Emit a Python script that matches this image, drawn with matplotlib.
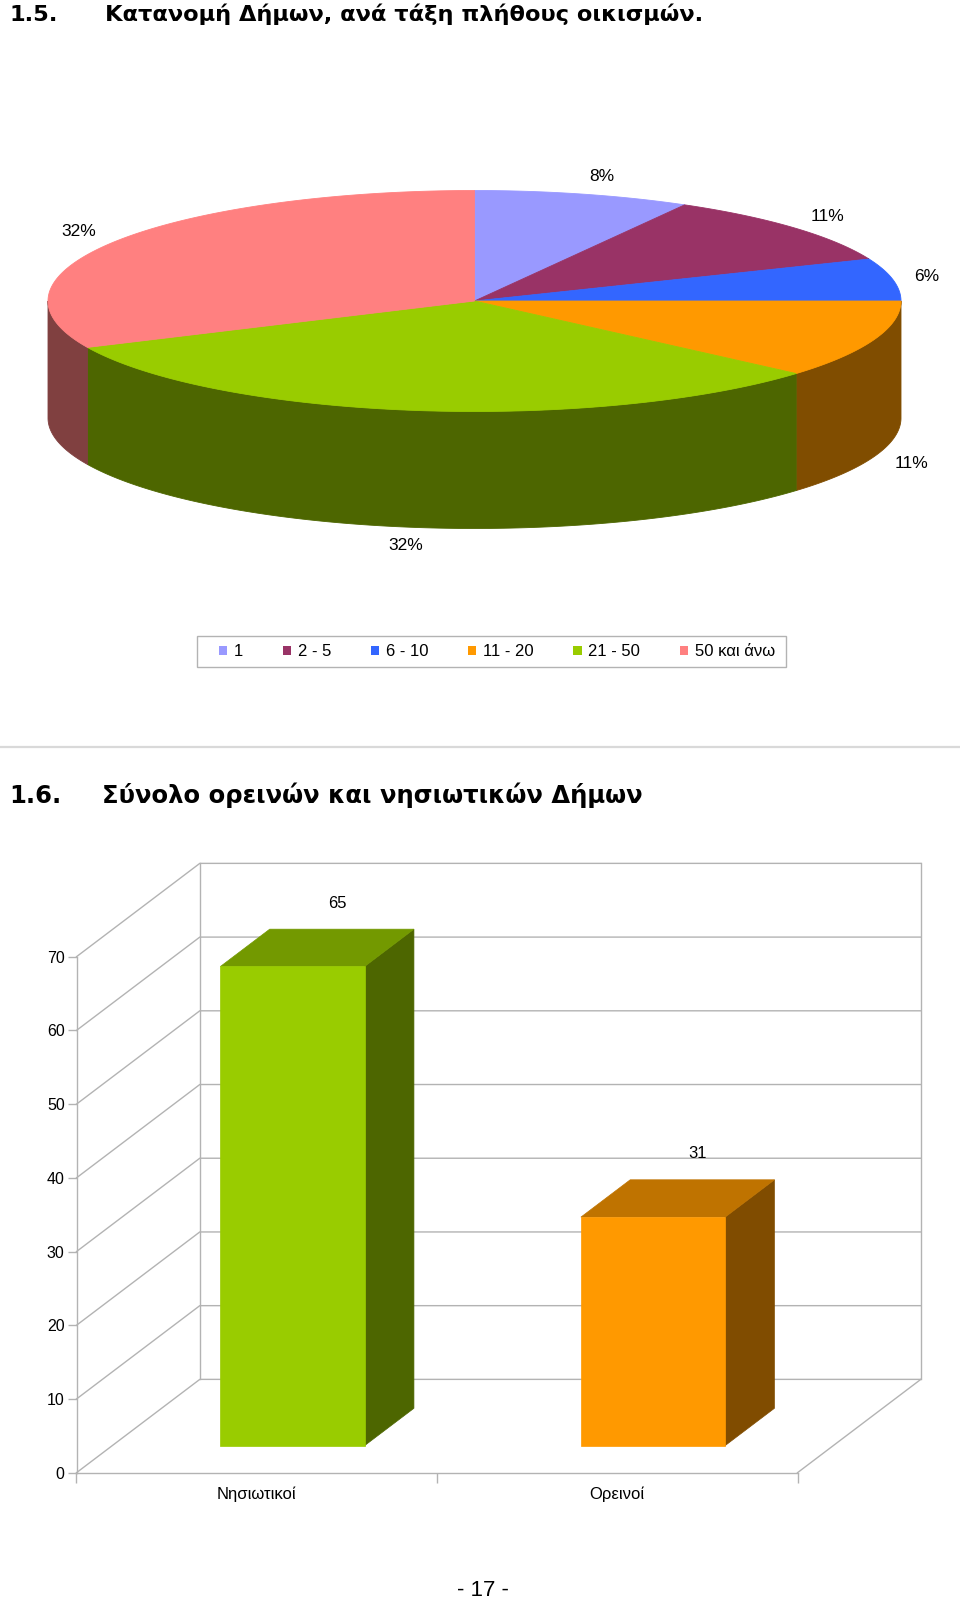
import numpy as np
import matplotlib
matplotlib.use('Agg')
import matplotlib.pyplot as plt
from matplotlib.patches import Patch, Rectangle

plt.rcParams['font.family'] = ['Liberation Sans', 'DejaVu Sans']

# 1.5 pie data (share of municipalities per settlement-count class, %)
groups = ['1', '2 - 5', '6 - 10', '11 - 20', '21 - 50', '50 και άνω']
shares = [8.2, 10.6, 6.2, 11.4, 31.7, 31.9]
top_colors = ['#9999FF', '#993366', '#3366FF', '#FF9900', '#99CC00', '#FF8080']
side_colors = ['#4D4D80', '#4D1A33', '#1A3380', '#804D00', '#4D6600', '#804040']

# 1.6 bar data
categories = ['Νησιωτικοί', 'Ορεινοί']
counts = [65, 31]
bar_front = ['#99CC00', '#FF9900']
bar_top = ['#739900', '#BF7300']
bar_side = ['#4D6600', '#804C00']
yticks = list(range(0, 80, 10))

title1 = ('1.5.', 'Κατανομή Δήμων, ανά τάξη πλήθους οικισμών.')
title2 = ('1.6.', 'Σύνολο ορεινών και νησιωτικών Δήμων')
page_no = '- 17 -'

W, H = 960, 1603
fig = plt.figure(figsize=(W / 100, H / 100), dpi=100)

# page canvas in pixel units
ax = fig.add_axes([0, 0, 1, 1])
ax.set_xlim(0, W)
ax.set_ylim(H, 0)
ax.axis('off')

tfont = dict(family=['DejaVu Sans'], fontweight='bold', va='baseline', color='black')
ax.text(9, 21, title1[0], fontsize=16.2, **tfont)
ax.text(105, 21, title1[1], fontsize=16.2, **tfont)
ax.text(9, 803, title2[0], fontsize=17.5, **tfont)
ax.text(102, 803, title2[1], fontsize=17.5, **tfont)
ax.plot([0, W], [747, 747], color='#D9D9D9', lw=1.6)
ax.text(483, 1591, page_no, fontsize=16, ha='center', va='center')

# ---- 3D pie ----
cx, cy, a, b, depth = 474.5, 301, 426.5, 110.5, 117
total = sum(shares)
edges = np.concatenate([[0], np.cumsum(shares)]) / total * 2 * np.pi

for i in range(len(shares)):
    lo = max(edges[i], np.pi / 2)
    hi = min(edges[i + 1], 3 * np.pi / 2)
    if lo < hi:
        ts = np.linspace(lo, hi, 120)
        xs = cx + a * np.sin(ts)
        ys = cy - b * np.cos(ts)
        px = np.concatenate([xs, xs[::-1]])
        py = np.concatenate([ys, ys[::-1] + depth])
        ax.fill(px, py, color=side_colors[i], lw=0.6, ec=side_colors[i], zorder=1)

for i in range(len(shares)):
    ts = np.linspace(edges[i], edges[i + 1], 200)
    xs = np.concatenate([[cx], cx + a * np.sin(ts)])
    ys = np.concatenate([[cy], cy - b * np.cos(ts)])
    ax.fill(xs, ys, color=top_colors[i], lw=0.6, ec=top_colors[i], zorder=2)

    mid = (edges[i] + edges[i + 1]) / 2
    s, c = np.sin(mid), np.cos(mid)
    lx = cx + (a + 22) * s
    ly = cy - (b + 18) * c + (depth if c < 0 else 0)
    ha = 'left' if s > 0.2 else ('right' if s < -0.2 else 'center')
    ax.text(lx - (6 if ha == 'center' else 0), ly, f'{shares[i] / total * 100:.0f}%',
            fontsize=12.5, ha=ha, va='center', zorder=3)

# legend with a box drawn to the reference size
ax.add_patch(Rectangle((197, 636), 589, 31, fill=False, ec='#B3B3B3', lw=1.0))
handles = [Patch(facecolor=col, edgecolor='none') for col in top_colors]
fig.legend(handles, groups, ncol=6, loc='center',
           bbox_to_anchor=(497 / W, 1 - 652 / H), fontsize=12,
           handlelength=0.5, handleheight=0.5, handletextpad=0.4,
           columnspacing=2.38, frameon=False)

# ---- 3D bars ----
grid = '#B3B3B3'
axb = fig.add_axes([76.5 / W, 1 - 1472.7 / H, 721 / W, 516 / H])
axb.set_facecolor('none')
axb.set_xlim(-0.5, 1.5)
axb.set_ylim(0, 70)
dx, dy = 0.342, 12.66   # oblique depth of the chart floor

for v in yticks:
    axb.plot([-0.5, -0.5 + dx, 1.5 + dx], [v, v + dy, v + dy],
             color=grid, lw=1, clip_on=False, zorder=0)
axb.plot([-0.5 + dx] * 2, [dy, 70 + dy], color=grid, lw=1, clip_on=False, zorder=0)
axb.plot([1.5 + dx] * 2, [dy, 70 + dy], color=grid, lw=1, clip_on=False, zorder=0)
axb.plot([1.5, 1.5 + dx], [0, dy], color=grid, lw=1, clip_on=False, zorder=0)

f0, f1, bw = 0.29, 0.69, 0.4
ox, oy = (f1 - f0) * dx, (f1 - f0) * dy
for i, v in enumerate(counts):
    x0 = i - bw / 2 + f0 * dx
    x1 = x0 + bw
    y0 = f0 * dy
    axb.fill([x1, x1 + ox, x1 + ox, x1], [y0, y0 + oy, y0 + v + oy, y0 + v],
             color=bar_side[i], lw=0.5, ec=bar_side[i], clip_on=False, zorder=2)
    axb.fill([x0, x1, x1 + ox, x0 + ox], [y0 + v, y0 + v, y0 + v + oy, y0 + v + oy],
             color=bar_top[i], lw=0.5, ec=bar_top[i], clip_on=False, zorder=2)
    axb.fill([x0, x1, x1, x0], [y0, y0, y0 + v, y0 + v],
             color=bar_front[i], lw=0.5, ec=bar_front[i], clip_on=False, zorder=3)
    axb.text(i + 0.65 * dx, y0 + v + oy + 3.5, str(v), fontsize=12,
             ha='center', va='center', clip_on=False)

for side in ['top', 'right']:
    axb.spines[side].set_visible(False)
for side in ['left', 'bottom']:
    axb.spines[side].set_color(grid)
    axb.spines[side].set_linewidth(1)

axb.set_yticks(yticks)
axb.tick_params(axis='y', direction='out', length=6.5, width=1, color=grid,
                pad=2, labelsize=11.5)
axb.set_xticks([-0.5, 0.5, 1.5])
axb.set_xticklabels([])
axb.set_xticks([0, 1], minor=True)
axb.set_xticklabels(categories, minor=True)
axb.tick_params(axis='x', which='major', direction='out', length=7, width=1, color=grid)
axb.tick_params(axis='x', which='minor', length=0, pad=10, labelsize=12)

fig.savefig('out.png', dpi=100)
